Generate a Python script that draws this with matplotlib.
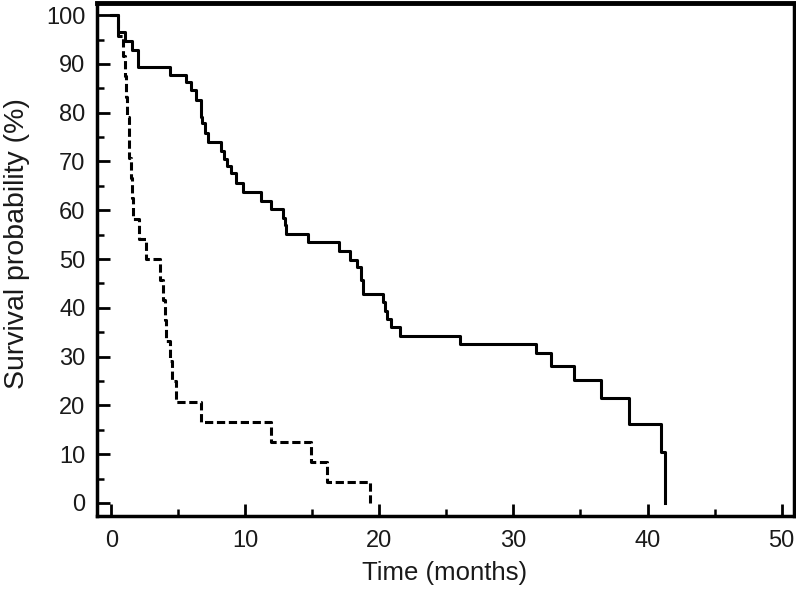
import matplotlib
matplotlib.use("Agg")
import matplotlib.pyplot as plt
from matplotlib.ticker import MultipleLocator

# Group 1 (solid) Kaplan-Meier steps: time (months), survival (%)
solid_time = [0, 0.5, 1.0, 1.57, 1.97, 4.35, 5.6, 5.97, 6.3, 6.66, 6.8, 6.96, 7.2,
              8.2, 8.4, 8.6, 8.9, 9.3, 9.8, 11.2, 11.9, 12.8, 12.95, 13.05, 14.65,
              17.0, 17.8, 18.3, 18.66, 18.8, 20.3, 20.45, 20.6, 20.9, 21.5, 26.0,
              31.7, 32.8, 34.5, 36.5, 38.6, 41.0, 41.3]
solid_surv = [100, 96.5, 94.6, 92.8, 89.4, 87.7, 86.3, 84.6, 82.7, 79.2, 77.9, 75.8, 73.9,
              72.2, 70.6, 69.1, 67.6, 65.6, 63.8, 62.0, 60.2, 58.5, 56.9, 55.2, 53.4,
              51.7, 49.8, 48.3, 45.7, 42.9, 41.2, 39.4, 37.8, 36.1, 34.3, 32.6,
              30.8, 28.0, 25.2, 21.6, 16.1, 10.4, 0.0]

# Group 2 (dashed)
dash_time = [0, 0.5, 0.9, 1.0, 1.1, 1.2, 1.3, 1.35, 1.45, 1.55, 1.6, 2.1, 2.6, 3.6,
             3.85, 4.0, 4.1, 4.35, 4.5, 4.85, 6.7, 11.9, 14.9, 16.1, 19.3]
dash_surv = [100, 95.8, 91.7, 87.5, 83.3, 79.2, 75.0, 70.8, 66.7, 62.5, 58.3, 54.2, 50.0, 45.8,
             41.7, 37.5, 33.3, 29.2, 25.0, 20.8, 16.7, 12.5, 8.3, 4.2, 0.0]

x_ticks = [0, 10, 20, 30, 40, 50]
y_ticks = [0, 10, 20, 30, 40, 50, 60, 70, 80, 90, 100]

plt.rcParams['font.family'] = ['Liberation Sans', 'DejaVu Sans']
text_color = '#1a1a1a'

fig = plt.figure(figsize=(7.96, 5.91), dpi=100)
ax = fig.add_axes([0.122, 0.127, 0.875, 0.868])

ax.step(solid_time, solid_surv, where='post', color='black', lw=2.2)
ax.step(dash_time, dash_surv, where='post', color='black', lw=2.2, linestyle=(0, (2.7, 1.2)))

ax.set_xlim(-1.06, 50.9)
ax.set_ylim(-2.66, 102.5)
ax.set_xticks(x_ticks)
ax.set_yticks(y_ticks)
ax.xaxis.set_minor_locator(MultipleLocator(5))
ax.yaxis.set_minor_locator(MultipleLocator(5))
ax.tick_params(which='major', direction='in', length=9, width=2, labelsize=17,
               labelcolor=text_color)
ax.tick_params(which='minor', direction='in', length=5, width=1.8)
ax.tick_params(axis='x', which='major', pad=10)
ax.tick_params(axis='y', which='major', pad=8.5)

for s in ax.spines.values():
    s.set_linewidth(2.5)
    s.set_color('black')
ax.spines['top'].set_linewidth(3.5)

ax.set_xlabel('Time (months)', fontsize=18.5, color=text_color, va='center')
ax.xaxis.set_label_coords(0.499, -0.111)
ax.set_ylabel('Survival probability (%)', fontsize=20.5, color=text_color, va='center')
ax.yaxis.set_label_coords(-0.115, 0.531)

fig.savefig('out.png', dpi=100)
